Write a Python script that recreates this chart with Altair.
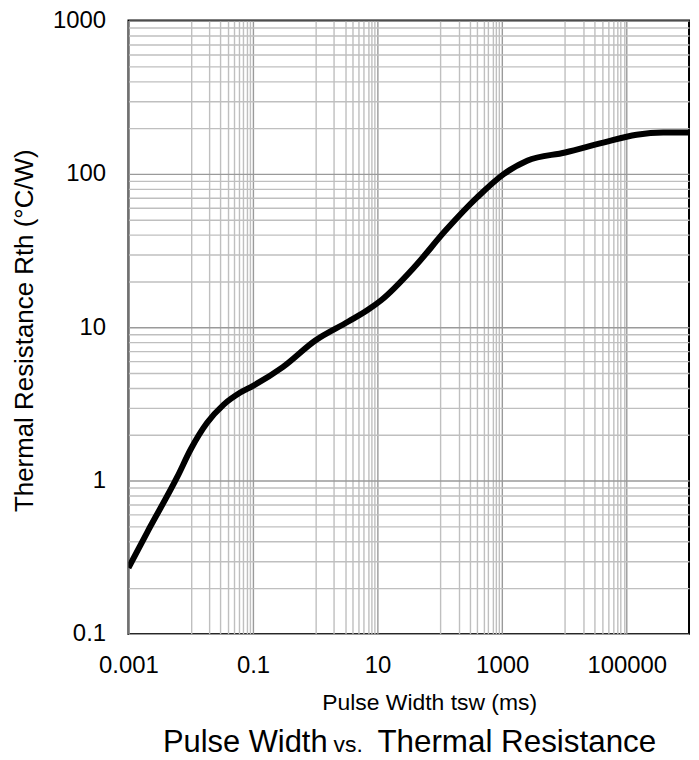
import altair as alt
import pandas as pd

# ---- data ----
pulse_width_ms = [0.001, 0.002, 0.0061, 0.01, 0.0183, 0.0338, 0.0625, 0.1, 0.3, 1.0,
                  3.4, 7.0, 11.4, 39, 125, 400, 1070, 2520, 10300, 42000, 144000, 385000, 1000000]
thermal_resistance = [0.27, 0.46, 1.06, 1.6, 2.38, 3.13, 3.75, 4.15, 5.5, 8.2,
                      10.9, 13.0, 15.0, 24.7, 43, 70.5, 100, 122, 138, 160, 180, 186, 186]

x_major = [0.001, 0.1, 10, 1000, 100000]
x_major_labels = ["0.001", "0.1", "10", "1000", "100000"]
y_major = [0.1, 1, 10, 100, 1000]
y_major_labels = ["0.1", "1", "10", "100", "1000"]

x_title = "Pulse Width tsw (ms)"
y_title = "Thermal Resistance Rth (°C/W)"
subtitle_parts = ["Pulse Width", "vs.", "Thermal Resistance"]

# grid values (Excel-style: log base 100 on x, base 10 on y)
x_grid = [0.001] + [round(k * d, 6) for d in (0.01, 1, 100, 10000) for k in range(1, 11)]
y_grid = [round(k * d, 6) for d in (0.1, 1, 10, 100) for k in range(1, 10)] + [1000]


def label_expr(vals, labels):
    return " : ".join(f"datum.value == {v} ? '{t}'" for v, t in zip(vals, labels)) + " : ''"


FONT = "Liberation Sans"
MAJOR = "#9a9a9a"
MINOR = "#bfbfbf"

df = pd.DataFrame({"t": pulse_width_ms, "r": thermal_resistance})

line = alt.Chart(df).mark_line(
    color="black", strokeWidth=6, interpolate="monotone", clip=True
).encode(
    x=alt.X(
        "t:Q",
        scale=alt.Scale(type="log", domain=[0.001, 1000000], nice=False),
        axis=alt.Axis(
            values=x_grid,
            labelExpr=label_expr(x_major, x_major_labels),
            labelOverlap=False,
            labelFlush=False,
            labelBaseline="alphabetic",
            labelPadding=39,
            labelFontSize=24,
            labelFont=FONT,
            labelColor="black",
            ticks=False,
            tickSize=0,
            domain=False,
            grid=True,
            gridColor={"condition": {"test": f"indexof({x_major}, datum.value) >= 0", "value": MAJOR},
                       "value": MINOR},
            gridWidth=1.4,
            title=x_title,
            titleFont=FONT,
            titleFontSize=23,
            titleFontWeight="normal",
            titleColor="black",
            titleBaseline="alphabetic",
            titleAlign="center",
            titleX=302,
            titleY=76,
        ),
    ),
    y=alt.Y(
        "r:Q",
        scale=alt.Scale(type="log", domain=[0.1, 1000], nice=False),
        axis=alt.Axis(
            values=y_grid,
            labelExpr=label_expr(y_major, y_major_labels),
            labelOverlap=False,
            labelFlush=False,
            labelPadding=23,
            labelFontSize=24,
            labelFont=FONT,
            labelColor="black",
            ticks=False,
            tickSize=0,
            domain=False,
            grid=True,
            gridColor={"condition": {"test": f"indexof({y_major}, datum.value) >= 0", "value": MAJOR},
                       "value": MINOR},
            gridWidth=1.4,
            title=y_title,
            titleFont=FONT,
            titleFontSize=26,
            titleFontWeight="normal",
            titleColor="black",
            titleBaseline="alphabetic",
            titleAlign="center",
            titleAngle=270,
            titleX=-96,
            titleY=311,
        ),
    ),
)

sub1 = alt.Chart(pd.DataFrame({"s": [subtitle_parts[0]]})).mark_text(
    align="right", baseline="alphabetic", font=FONT, fontSize=31, color="black"
).encode(text="s:N", x=alt.value(200), y=alt.value(735))

sub2 = alt.Chart(pd.DataFrame({"s": [subtitle_parts[1]]})).mark_text(
    align="left", baseline="alphabetic", font=FONT, fontSize=23, color="black"
).encode(text="s:N", x=alt.value(206), y=alt.value(735))

sub3 = alt.Chart(pd.DataFrame({"s": [subtitle_parts[2]]})).mark_text(
    align="left", baseline="alphabetic", font=FONT, fontSize=31.5, color="black"
).encode(text="s:N", x=alt.value(250), y=alt.value(735))

chart = alt.layer(line, sub1, sub2, sub3).properties(
    width=563,
    height=616,
    autosize=alt.AutoSizeParams(type="none"),
    padding={"left": 121, "top": 11, "right": 2, "bottom": 123},
).configure_view(stroke="black", strokeWidth=2)

chart.save("out.html", embed_options={"renderer": "svg", "actions": False})
